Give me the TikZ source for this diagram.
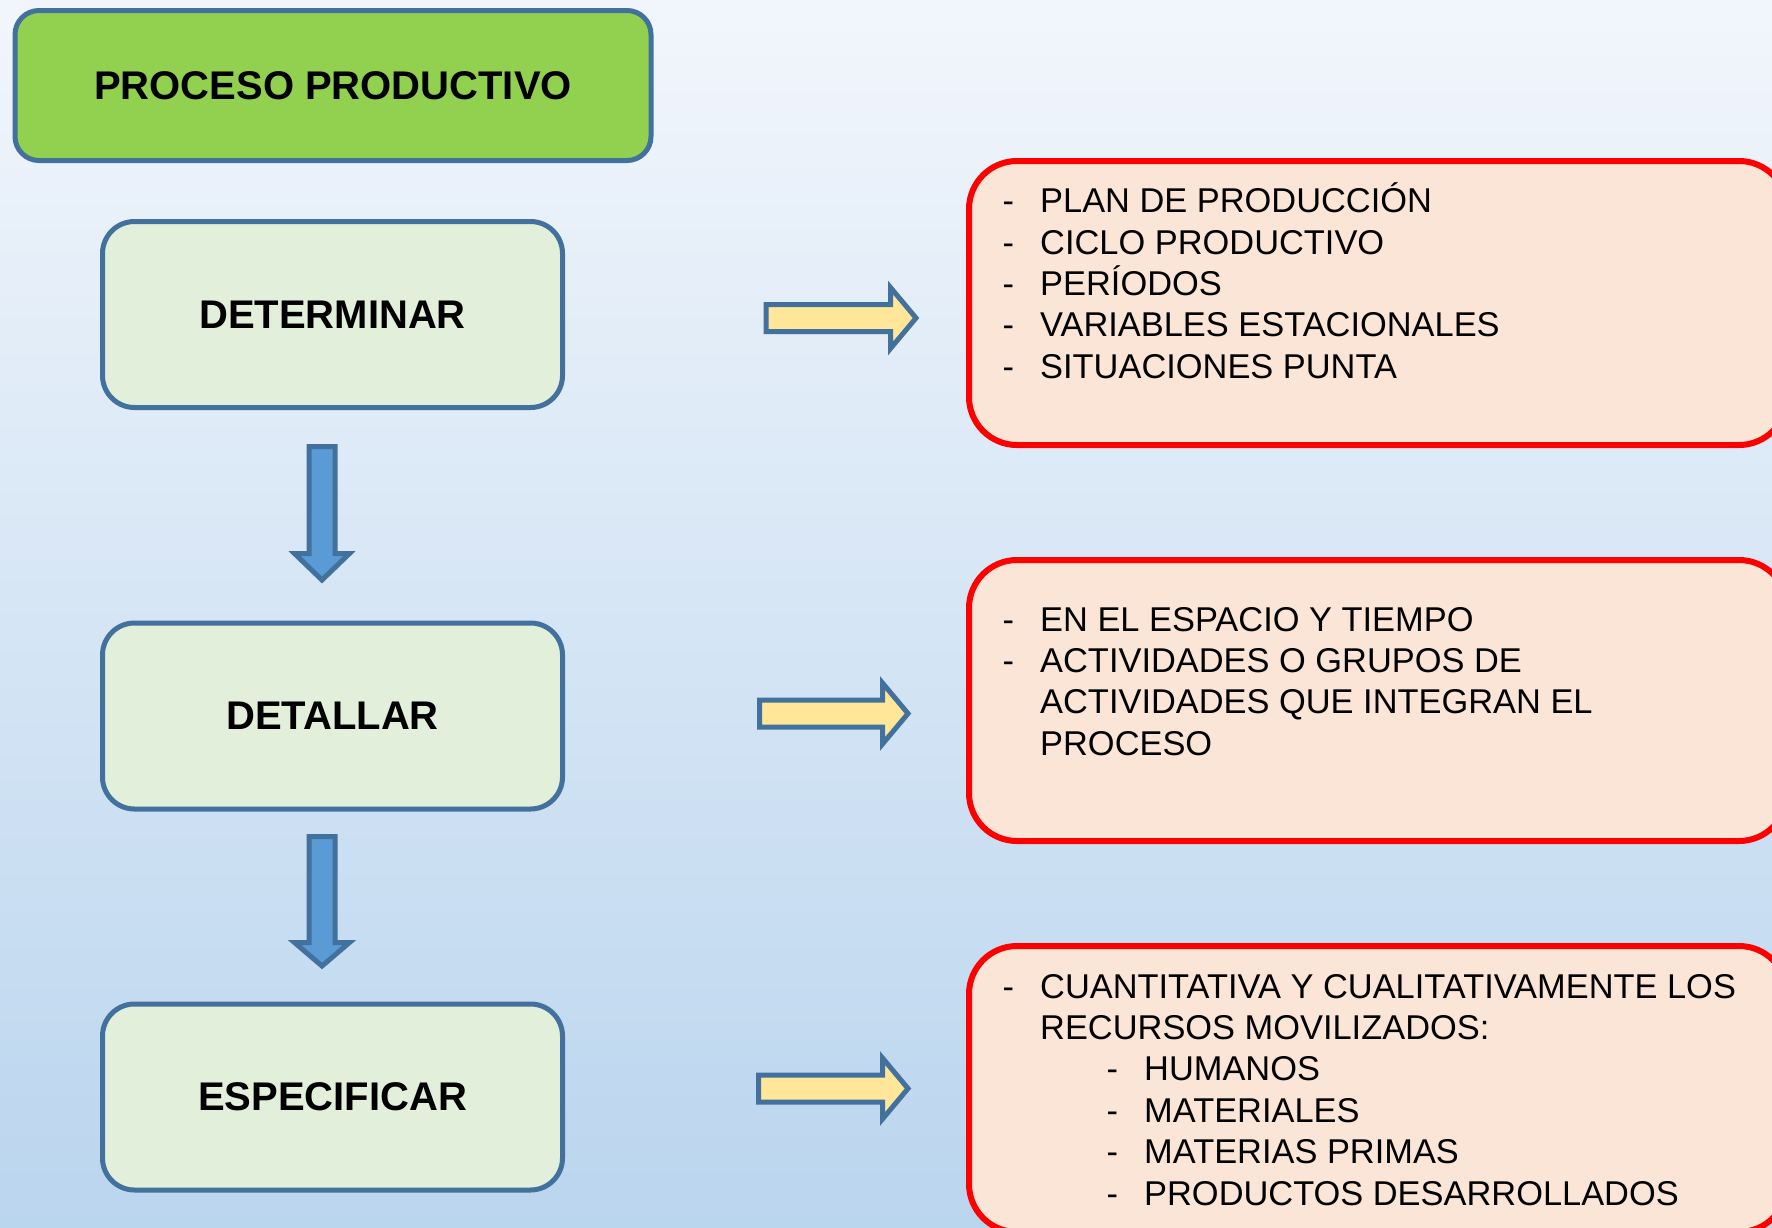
\documentclass[tikz,border=0pt]{standalone}
\usepackage{fontspec}
\setmainfont{Liberation Sans}
\definecolor{bgtop}{HTML}{F2F6FC}
\definecolor{bgbot}{HTML}{BAD5EE}
\definecolor{bord}{HTML}{41719C}
\definecolor{green1}{HTML}{92D050}
\definecolor{lgreen}{HTML}{E2EFDA}
\definecolor{salmon}{HTML}{FBE5D6}
\definecolor{redb}{HTML}{FF0000}
\definecolor{yarrow}{HTML}{FFE699}
\definecolor{barrow}{HTML}{5B9BD5}
\newcommand\bulitem[4]{%
  \node[item] (#1d) at (#2,#3) {-};
  \node[item] (#1) at (#2+37.5,#3) {#4};}
\newcommand\contitem[4]{%
  \node[item] (#1) at (#2+37.5,#3) {#4};}
\newcommand\rarrowshape[4]{% left, headstart, tip, center y
  \draw[blk, fill=yarrow] (#1,#4-13.5) -- (#2,#4-13.5) -- (#2,#4-30.5) -- (#3,#4)
    -- (#2,#4+30.5) -- (#2,#4+13.5) -- (#1,#4+13.5) -- cycle;}
\newcommand\darrowshape[4]{% x center, top, headstart, tip
  \draw[blk, fill=barrow] (#1-13,#2) -- (#1+13,#2) -- (#1+13,#3) -- (#1+27.5,#3) -- (#1,#4)
    -- (#1-27.5,#3) -- (#1-13,#3) -- (#1-13,#2) -- cycle;}
\begin{document}
\begin{tikzpicture}[x=1pt,y=-1pt,
  lbox/.style={draw=bord, line width=5pt, rounded corners=32pt, fill=lgreen,
    minimum width=460pt, minimum height=186pt, inner sep=0pt,
    font=\fontsize{40}{48}\selectfont\bfseries},
  rbox/.style={draw=redb, line width=6pt, rounded corners=48pt, fill=salmon,
    minimum width=818pt, inner sep=0pt},
  item/.style={anchor=base west, inner sep=0pt, font=\fontsize{34.4}{41}\selectfont},
  blk/.style={line width=5pt, draw=bord, line join=miter}]
\clip (0,0) rectangle (1772,1227);
\useasboundingbox (0,0) rectangle (1772,1227);
\shade[top color=bgtop, bottom color=bgbot] (0,0) rectangle (1772,1227);

% left column
\node[lbox, fill=green1, minimum width=636pt, minimum height=150pt, rounded corners=24pt]
  (pp) at (333,85.5) {PROCESO PRODUCTIVO};
\node[lbox] (det) at (332.5,314.5) {DETERMINAR};
\node[lbox] (dta) at (332.5,716) {DETALLAR};
\node[lbox] (esp) at (332.5,1097) {ESPECIFICAR};

% down arrows
\darrowshape{322}{446.5}{553.5}{580}
\darrowshape{322}{836.5}{942.5}{966}

% right boxes
\node[rbox, minimum height=284pt] (r1) at (1378,303) {};
\node[rbox, minimum height=281pt] (r2) at (1378,700.5) {};
\node[rbox, minimum height=286pt] (r3) at (1378,1089) {};

% right arrows
\rarrowshape{766}{890.5}{916}{318}
\rarrowshape{759.5}{882.5}{908}{713.5}
\rarrowshape{758.5}{882.5}{908}{1088.5}

% texts box 1
\bulitem{a1}{1002.5}{212.7}{PLAN DE PRODUCCIÓN}
\bulitem{a2}{1002.5}{254.1}{CICLO PRODUCTIVO}
\bulitem{a3}{1002.5}{295.5}{PERÍODOS}
\bulitem{a4}{1002.5}{336.9}{VARIABLES ESTACIONALES}
\bulitem{a5}{1002.5}{378.3}{SITUACIONES PUNTA}

% texts box 2
\bulitem{b1}{1002.5}{631}{EN EL ESPACIO Y TIEMPO}
\bulitem{b2}{1002.5}{672.4}{ACTIVIDADES O GRUPOS DE}
\contitem{b3}{1002.5}{713.8}{ACTIVIDADES QUE INTEGRAN EL}
\contitem{b4}{1002.5}{755.2}{PROCESO}

% texts box 3
\bulitem{c1}{1002.5}{998}{CUANTITATIVA Y CUALITATIVAMENTE LOS}
\contitem{c2}{1002.5}{1039.4}{RECURSOS MOVILIZADOS:}
\bulitem{c3}{1106.5}{1080.8}{HUMANOS}
\bulitem{c4}{1106.5}{1122.2}{MATERIALES}
\bulitem{c5}{1106.5}{1163.6}{MATERIAS PRIMAS}
\bulitem{c6}{1106.5}{1205}{PRODUCTOS DESARROLLADOS}
\end{tikzpicture}
\end{document}
